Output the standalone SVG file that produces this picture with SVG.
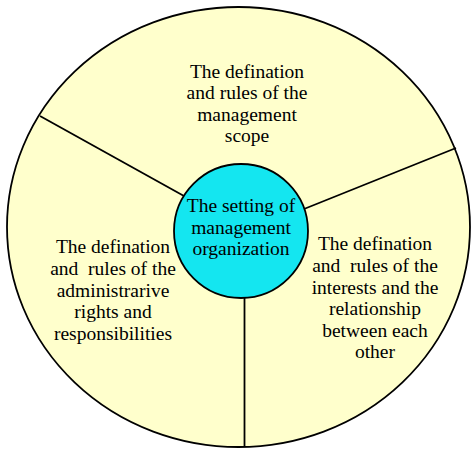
<svg xmlns="http://www.w3.org/2000/svg" width="471" height="449" viewBox="0 0 471 449">
<style>
text{font-family:"Liberation Serif","Times New Roman",serif;font-size:19.5px;fill:#000;text-anchor:middle}
.ln{stroke:#000;stroke-width:1.8;fill:none}
</style>
<rect width="471" height="449" fill="#fff"/>
<g id="outer">
<ellipse cx="238.5" cy="227" rx="231.5" ry="220" fill="#FFFFCC" stroke="#000" stroke-width="1.8"/>
</g>
<g id="connectors">
<line class="ln" x1="40" y1="116" x2="184" y2="196"/>
<line class="ln" x1="456" y1="148" x2="304" y2="209"/>
<line class="ln" x1="244.5" y1="297" x2="244.5" y2="447"/>
</g>
<g id="top">
<text x="247" y="78">The defination</text>
<text x="247" y="99">and rules of the</text>
<text x="247" y="121">management</text>
<text x="247" y="142">scope</text>
</g>
<g id="left">
<text x="113" y="253">The defination</text>
<text x="113" y="275" xml:space="preserve">and  rules of the</text>
<text x="113" y="297">administrarive</text>
<text x="113" y="318">rights and</text>
<text x="113" y="340">responsibilities</text>
</g>
<g id="right">
<text x="375" y="250">The defination</text>
<text x="375" y="272" xml:space="preserve">and  rules of the</text>
<text x="375" y="294">interests and the</text>
<text x="375" y="315">relationship</text>
<text x="375" y="337">between each</text>
<text x="375" y="358">other</text>
</g>
<g id="center">
<circle cx="241" cy="231" r="67" fill="#14E6F0" stroke="#000" stroke-width="1.8"/>
<text x="241" y="212">The setting of</text>
<text x="241" y="234">management</text>
<text x="241" y="255">organization</text>
</g>
</svg>
